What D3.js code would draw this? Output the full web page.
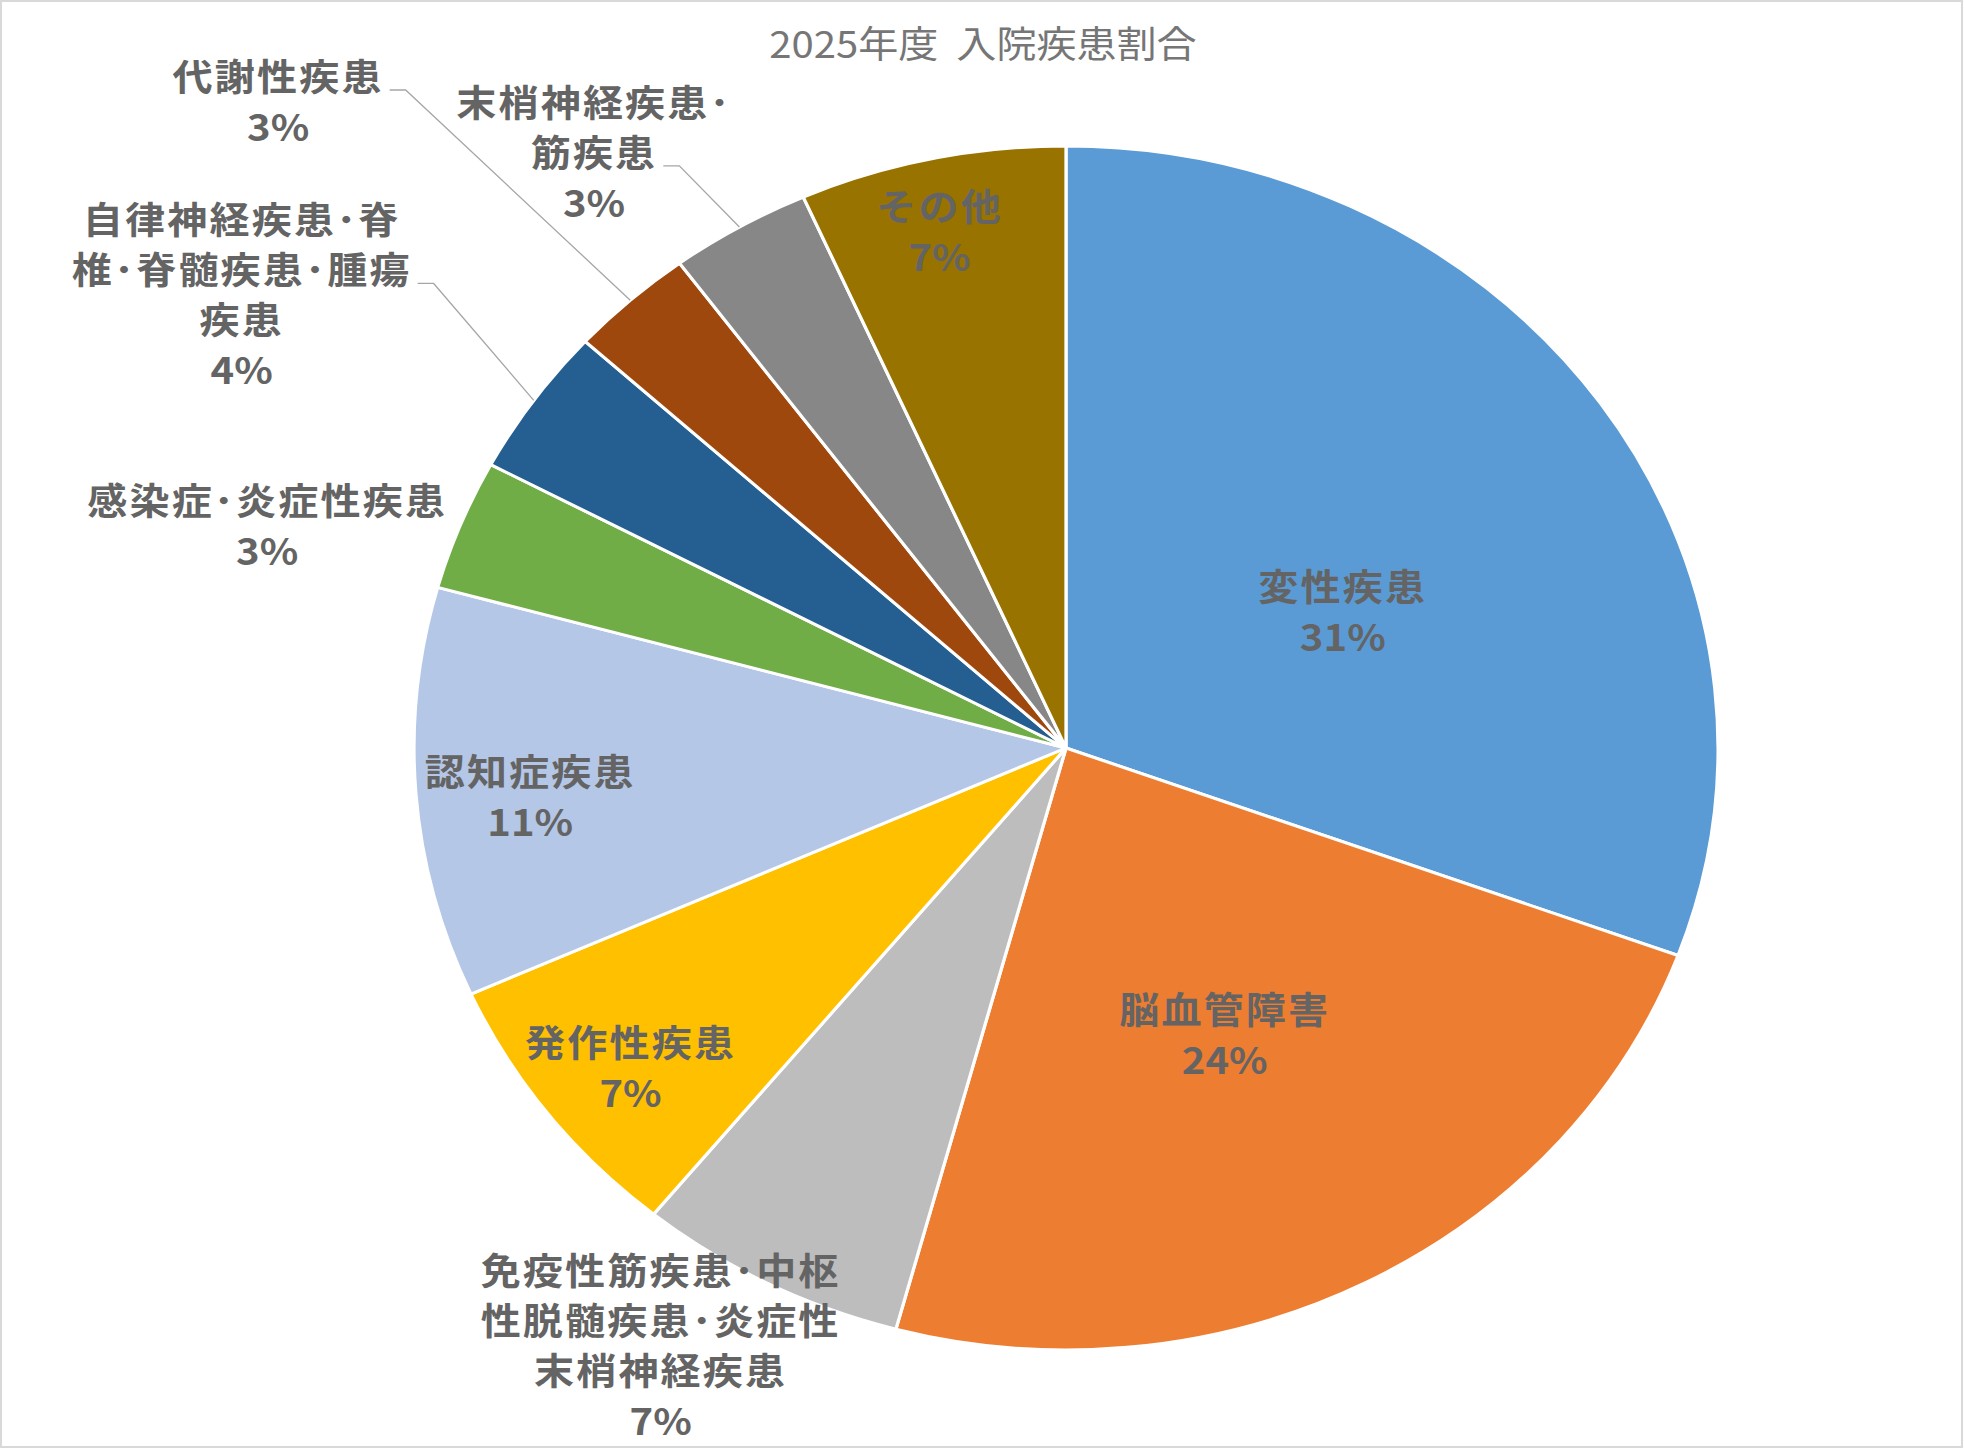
<!DOCTYPE html>
<html><head><meta charset="utf-8">
<script src="https://cdn.jsdelivr.net/npm/d3@7"></script>
<style>html,body{margin:0;padding:0;background:#fff;} svg{display:block;}</style>
</head><body>
<svg id="chart" width="1964" height="1450"></svg>
<script>
// ---- data ----
const title = "2025年度  入院疾患割合";
const categories = ["変性疾患","脳血管障害","免疫性筋疾患･中枢性脱髄疾患･炎症性末梢神経疾患","発作性疾患","認知症疾患","感染症･炎症性疾患","自律神経疾患･脊椎･脊髄疾患･腫瘍疾患","代謝性疾患","末梢神経疾患･筋疾患","その他"];
const values = [30.6, 23.6, 6.7, 7.4, 11.0, 3.5, 4.0, 3.1, 3.5, 6.6];
const percentLabels = ["31%","24%","7%","7%","11%","3%","4%","3%","3%","7%"];
const labelLines = [["変性疾患"],["脳血管障害"],["免疫性筋疾患･中枢","性脱髄疾患･炎症性","末梢神経疾患"],["発作性疾患"],["認知症疾患"],["感染症･炎症性疾患"],["自律神経疾患･脊","椎･脊髄疾患･腫瘍","疾患"],["代謝性疾患"],["末梢神経疾患･","筋疾患"],["その他"]];

// ---- styles / layout ----
const colors = ["#5B9BD5","#ED7D31","#BDBDBD","#FFC000","#B4C7E7","#70AD47","#255E91","#9E480E","#878787","#997300"];
const labelAngleOffset = [7.1, 0.4, 4.8, -1.2, -1.5, -5.1, -4.6, -6.5, -6.2, -0.9];
const labelRadius = [0.48, 0.537, 1.174, 0.855, 0.826, 1.279, 1.47, 1.615, 1.224, 0.877];
const leaderLineIndex = [null, null, null, null, null, null, 1, 0, 1, null];

const W = 1964, H = 1450;
const cx = 1066, cy = 748, R = 602, sx = 652 / 602;
const lineH = 50;

const svg = d3.select("#chart");
svg.append("rect").attr("x", 1).attr("y", 1).attr("width", W - 3).attr("height", H - 4)
  .attr("fill", "#fff").attr("stroke", "#d9d9d9").attr("stroke-width", 2);

svg.append("g").attr("transform", `translate(983,45) scale(${sx},1)`)
  .append("text").text(title)
  .attr("text-anchor", "middle").attr("dy", "0.35em")
  .style("white-space", "pre")
  .attr("font-family", "'Noto Sans CJK JP', 'Noto Sans', sans-serif")
  .attr("font-size", 37).attr("fill", "#767676");

const g = svg.append("g").attr("transform", `translate(${cx},${cy}) scale(${sx},1)`);

const pie = d3.pie().sort(null).value(d => d)(values);
const arc = d3.arc().innerRadius(0).outerRadius(R);

g.selectAll("path.slice").data(pie).join("path")
  .attr("class", "slice")
  .attr("d", arc)
  .attr("fill", (d, i) => colors[i])
  .attr("stroke", "#fff").attr("stroke-width", 3).attr("stroke-linejoin", "round");

const lg = g.append("g");
pie.forEach((d, i) => {
  const mid = (d.startAngle + d.endAngle) / 2 + labelAngleOffset[i] * Math.PI / 180;
  const r = labelRadius[i] * R;
  const lx = r * Math.sin(mid), ly = -r * Math.cos(mid);
  const lines = labelLines[i].concat([percentLabels[i]]);
  const n = lines.length;
  const t = lg.append("text")
    .attr("text-anchor", "middle")
    .attr("font-family", "'Noto Sans CJK JP', 'Noto Sans', sans-serif")
    .attr("font-weight", 700).attr("font-size", 37)
    .attr("fill", "#646464");
  const spans = lines.map((s, k) => t.append("tspan")
    .attr("x", lx).attr("y", ly + (k - (n - 1) / 2) * lineH).attr("dy", "0.35em")
    .attr("letter-spacing", k === n - 1 ? 0 : 2)
    .text(s));
  const li = leaderLineIndex[i];
  if (li !== null) {
    const w = spans[li].node().getComputedTextLength();
    const yLine = ly + (li - (n - 1) / 2) * lineH + 12;
    const x1 = lx + w / 2 + 6 / sx;
    const x2 = x1 + 16 / sx;
    const ea = (d.startAngle + d.endAngle) / 2;
    const ex = R * Math.sin(ea), ey = -R * Math.cos(ea);
    lg.append("path")
      .attr("d", `M${x1},${yLine}L${x2},${yLine}L${ex},${ey}`)
      .attr("fill", "none").attr("stroke", "#a6a6a6").attr("stroke-width", 1.3)
      .attr("vector-effect", "non-scaling-stroke");
  }
});
</script>
</body></html>
